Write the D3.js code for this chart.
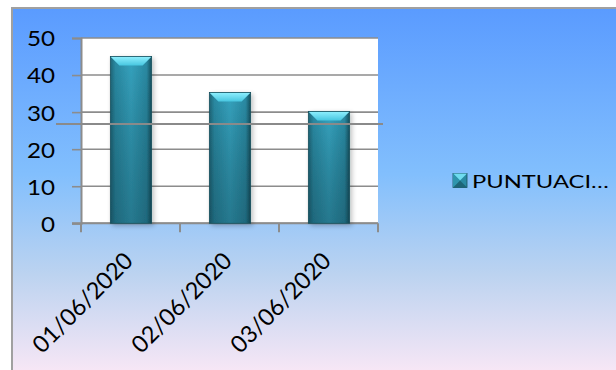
<!DOCTYPE html>
<html><head><meta charset="utf-8">
<script src="https://cdn.jsdelivr.net/npm/d3@7"></script>
<style>html,body{margin:0;padding:0;background:#fff;}svg{display:block;}</style>
</head><body>
<script>
const categories = ["01/06/2020", "02/06/2020", "03/06/2020"];
const seriesName = "PUNTUACI…";
const values = [45, 35.3, 30.2];
const yTicks = [0, 10, 20, 30, 40, 50];
const stray = [26.8];

const W = 616, H = 370;
const svg = d3.select("body").append("svg").attr("width", W).attr("height", H);
const defs = svg.append("defs");

const bg = defs.append("linearGradient").attr("id","bg").attr("x1",0).attr("y1",0).attr("x2",0).attr("y2",1);
[[0,"#5a9bff"],[0.45,"#82bffd"],[0.72,"#bcd3f0"],[1,"#fbe8f6"]].forEach(s=>bg.append("stop").attr("offset",s[0]).attr("stop-color",s[1]));
const bh = defs.append("linearGradient").attr("id","barH").attr("x1",0).attr("y1",0).attr("x2",1).attr("y2",0);
[[0,"#1f6678"],[0.12,"#2a8aa3"],[0.5,"#35a3bf"],[0.88,"#2a8aa3"],[1,"#16505e"]].forEach(s=>bh.append("stop").attr("offset",s[0]).attr("stop-color",s[1]));
const bv = defs.append("linearGradient").attr("id","barV").attr("x1",0).attr("y1",0).attr("x2",0).attr("y2",1);
[[0,"#000","0"],[1,"#0a2a35","0.35"]].forEach(s=>bv.append("stop").attr("offset",s[0]).attr("stop-color",s[1]).attr("stop-opacity",s[2]));
const bt = defs.append("linearGradient").attr("id","barT").attr("x1",0).attr("y1",0).attr("x2",0).attr("y2",1);
[[0,"#8ff0ff"],[1,"#48c6e0"]].forEach(s=>bt.append("stop").attr("offset",s[0]).attr("stop-color",s[1]));
const sh = defs.append("filter").attr("id","shadow").attr("x","-30%").attr("y","-10%").attr("width","160%").attr("height","130%");
sh.append("feGaussianBlur").attr("in","SourceAlpha").attr("stdDeviation",2.5);
sh.append("feOffset").attr("dx",2).attr("dy",2).attr("result","b");
sh.append("feComponentTransfer").append("feFuncA").attr("type","linear").attr("slope",0.25);
const fm = sh.append("feMerge"); fm.append("feMergeNode"); fm.append("feMergeNode").attr("in","SourceGraphic");

// outer background
svg.append("rect").attr("x",12).attr("y",8).attr("width",W).attr("height",H).attr("fill","url(#bg)").attr("stroke","#a0a0a0").attr("stroke-width",2);

const L = 81, R = 378, T = 38, B = 223.3;
const x = d3.scaleBand().domain(categories).range([L, R]).padding(0);
const y = d3.scaleLinear().domain([0, 50]).range([B, T]);

svg.append("rect").attr("x",L).attr("y",T).attr("width",R-L).attr("height",B-T).attr("fill","#fff");

const font = "Lato, 'Open Sans', sans-serif";

// gridlines
svg.append("g").selectAll("line").data(yTicks).join("line")
  .attr("x1",L).attr("x2",R).attr("y1",d=>y(d)).attr("y2",d=>y(d))
  .attr("stroke","#8c8c8c").attr("stroke-width",1.6);

// y axis
const yAxis = svg.append("g").attr("transform",`translate(${L},0)`)
  .call(d3.axisLeft(y).tickValues(yTicks).tickSize(9).tickPadding(0).tickFormat(d3.format("d")));
yAxis.select(".domain").attr("stroke","#8c8c8c").attr("stroke-width",2);
yAxis.selectAll(".tick line").attr("stroke","#8c8c8c").attr("stroke-width",1.6);
yAxis.selectAll("text").attr("x",0).attr("transform","translate(-26,0) scale(1.1,1)")
  .attr("font-family",font).attr("font-size",22).attr("fill","#000").attr("dy","0.36em");

// x axis ticks at band boundaries
const xb = categories.map(c=>x(c)).concat([R]);
svg.append("g").selectAll("line").data(xb).join("line")
  .attr("x1",d=>d).attr("x2",d=>d).attr("y1",B).attr("y2",B+9)
  .attr("stroke","#8c8c8c").attr("stroke-width",2);
svg.append("line").attr("x1",L-9).attr("x2",R).attr("y1",B).attr("y2",B).attr("stroke","#8c8c8c").attr("stroke-width",2);

// x labels
svg.append("g").selectAll("text").data(categories).join("text")
  .attr("transform",d=>`translate(${x(d)+x.bandwidth()/2+4},${B+39}) rotate(-45)`)
  .attr("text-anchor","end").attr("font-family",font).attr("font-size",23.5).attr("fill","#000")
  .text(d=>d);

// bars
const bw = x.bandwidth()/2.4;
const bars = svg.append("g").selectAll("g").data(values).join("g").attr("filter","url(#shadow)");
bars.append("rect")
  .attr("x",(d,i)=>x(categories[i])+x.bandwidth()/2-bw/2+0.5).attr("width",bw)
  .attr("y",d=>y(d)).attr("height",d=>B-y(d)).attr("fill","url(#barH)");
bars.append("rect")
  .attr("x",(d,i)=>x(categories[i])+x.bandwidth()/2-bw/2+0.5).attr("width",bw)
  .attr("y",d=>y(d)).attr("height",d=>B-y(d)).attr("fill","url(#barV)");
bars.append("polygon").attr("points",(d,i)=>{
  const x0 = x(categories[i])+x.bandwidth()/2-bw/2+0.5, x1 = x0+bw, t = y(d), k = 9;
  return `${x0},${t} ${x1},${t} ${x1-k},${t+k} ${x0+k},${t+k}`;
}).attr("fill","url(#barT)");
bars.append("rect")
  .attr("x",(d,i)=>x(categories[i])+x.bandwidth()/2-bw/2+0.5).attr("width",bw)
  .attr("y",d=>y(d)).attr("height",d=>B-y(d)).attr("fill","none").attr("stroke","#17505e").attr("stroke-width",0.8);

// stray line
svg.append("g").selectAll("line").data(stray).join("line")
  .attr("x1",56).attr("x2",383).attr("y1",d=>y(d)).attr("y2",d=>y(d))
  .attr("stroke","#8a8a8a").attr("stroke-width",2);

// legend
const lg = svg.append("g").attr("transform","translate(453,173.5)");
const m = 14;
lg.append("rect").attr("width",m).attr("height",m).attr("fill","#2a8aa3").attr("stroke","#17505e").attr("stroke-width",0.8);
lg.append("polygon").attr("points",`0,0 ${m},0 ${m/2},${m/2}`).attr("fill","#6fdcf0");
lg.append("polygon").attr("points",`0,${m} ${m},${m} ${m/2},${m/2}`).attr("fill","#1d6577");
lg.append("polygon").attr("points",`0,0 0,${m} ${m/2},${m/2}`).attr("fill","#2f95ae");
lg.append("text").attr("transform","translate(19,14.3) scale(1.32,1)").attr("font-family",font).attr("font-size",18).attr("fill","#000").text(seriesName);
</script>
</body></html>
